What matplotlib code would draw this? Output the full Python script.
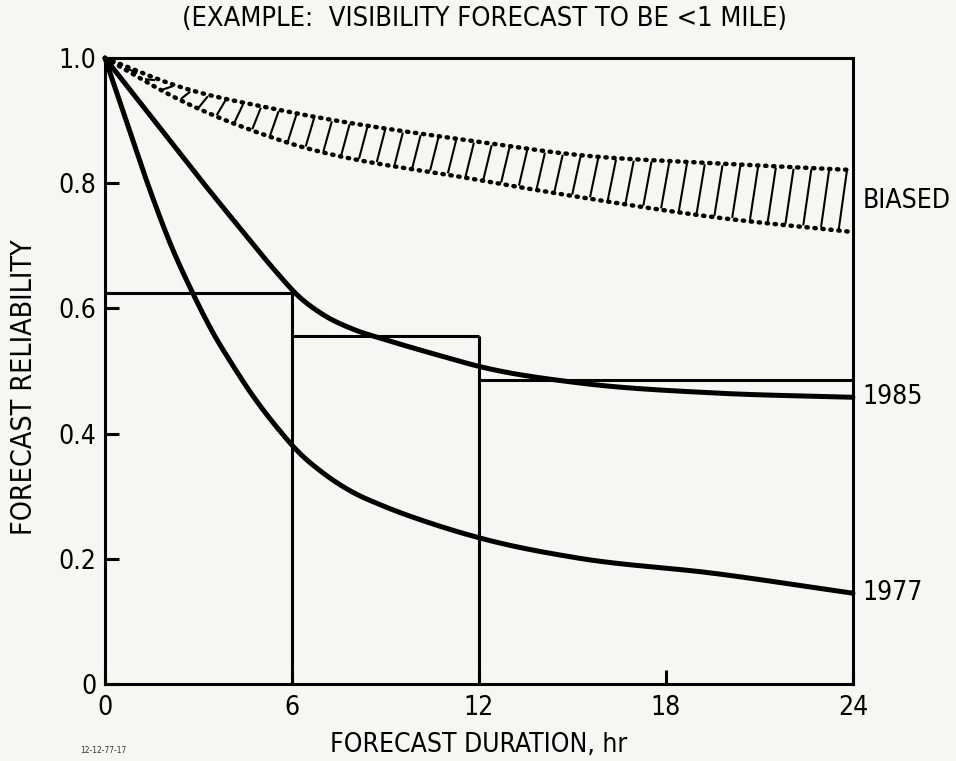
import matplotlib
matplotlib.use("Agg")
import matplotlib.pyplot as plt
import numpy as np

FONT = dict(family="DejaVu Sans", stretch="condensed")

# reliability curves, hours vs reliability
hrs_1985 = [0, 1.5, 3.0, 4.5, 5.5, 6.2, 7.0, 8.0, 9.0, 10.5, 12.2, 15.2, 19.5, 24]
rel_1985 = [1.0, 0.905, 0.81, 0.718, 0.658, 0.62, 0.59, 0.566, 0.55, 0.528, 0.505, 0.481, 0.465, 0.458]

hrs_1977 = [0, 0.7, 1.4, 2.1, 2.83, 3.5, 4.0, 4.75, 5.6, 6.2, 7.0, 8.0, 8.8, 10.5, 12.2, 15.2, 19.5, 24]
rel_1977 = [1.0, 0.897, 0.795, 0.703, 0.623, 0.558, 0.517, 0.46, 0.405, 0.371, 0.337, 0.305, 0.287,
            0.256, 0.231, 0.201, 0.177, 0.145]

# biased band (upper and lower limits)
hrs_bias = [0, 2.4, 5.6, 12.0, 15.2, 19.5, 24]
bias_hi = [1.0, 0.954, 0.917, 0.866, 0.845, 0.832, 0.821]
bias_lo = [1.0, 0.933, 0.869, 0.805, 0.778, 0.746, 0.722]

# 6-hourly block averages
step_edges = [0, 6, 12, 24]
step_vals = [0.625, 0.556, 0.486]

curve_labels = ["BIASED", "1985", "1977"]
xticks = [0, 6, 12, 18, 24]
yticks = [0, 0.2, 0.4, 0.6, 0.8, 1.0]
ytick_labels = ["0", "0.2", "0.4", "0.6", "0.8", "1.0"]


def smooth(x, y, n=25):
    # cubic hermite through the points, slopes from np.gradient
    x = np.asarray(x, float)
    y = np.asarray(y, float)
    m = np.gradient(y, x)
    ox, oy = [], []
    t = np.linspace(0, 1, n, endpoint=False)
    for i in range(len(x) - 1):
        h = x[i + 1] - x[i]
        h00 = 2 * t ** 3 - 3 * t ** 2 + 1
        h10 = t ** 3 - 2 * t ** 2 + t
        h01 = -2 * t ** 3 + 3 * t ** 2
        h11 = t ** 3 - t ** 2
        ox.extend(x[i] + t * h)
        oy.extend(h00 * y[i] + h10 * h * m[i] + h01 * y[i + 1] + h11 * h * m[i + 1])
    ox.append(x[-1])
    oy.append(y[-1])
    return np.array(ox), np.array(oy)


fig = plt.figure(figsize=(9.56, 7.61), dpi=100, facecolor="#f6f6f4")
ax = fig.add_axes([0.1098, 0.1012, 0.7824, 0.8226])
ax.set_facecolor("#f6f6f4")
ax.set_xlim(0, 24)
ax.set_ylim(0, 1.0)

for s in ax.spines.values():
    s.set_linewidth(2.2)
    s.set_color("black")

# step blocks
for i in range(len(step_vals)):
    x0, x1 = step_edges[i], step_edges[i + 1]
    ax.plot([x0, x1], [step_vals[i], step_vals[i]], color="black", lw=2.2, solid_capstyle="butt")
for i in range(1, len(step_vals)):
    top = max(step_vals[i - 1], step_vals[i])
    ax.plot([step_edges[i], step_edges[i]], [0, top], color="black", lw=2.2, solid_capstyle="butt")

# solid curves
for h, r in ((hrs_1985, rel_1985), (hrs_1977, rel_1977)):
    sx, sy = smooth(h, r)
    ax.plot(sx, sy, color="black", lw=3.6, solid_capstyle="round", solid_joinstyle="round",
            clip_on=False)

# biased band: dotted limits with slanted hatching
hx, hy = smooth(hrs_bias, bias_hi)
lx, ly = smooth(hrs_bias, bias_lo)
for bx, by in ((hx, hy), (lx, ly)):
    ax.plot(bx, by, color="black", lw=3.2, linestyle=(0, (0.3, 1.5)), dash_capstyle="round")

dx = 0.25
for x0 in np.arange(0.75, 23.8, 0.57):
    x1 = min(x0 + dx, 24)
    y0 = np.interp(x0, lx, ly)
    y1 = np.interp(x1, hx, hy)
    ax.plot([x0, x1], [y0 + 0.004, y1 - 0.004], color="black", lw=1.5)

ax.set_xticks(xticks)
ax.set_xticklabels([str(v) for v in xticks], fontsize=19, **FONT)
ax.set_yticks(yticks)
ax.set_yticklabels(ytick_labels, fontsize=19, **FONT)
ax.tick_params(axis="both", direction="in", length=10, width=2.2, colors="black")
ax.tick_params(axis="x", pad=8)
ax.tick_params(axis="y", pad=6)

ax.set_xlabel("FORECAST DURATION, hr", fontsize=19, labelpad=8, **FONT)
ax.set_ylabel("FORECAST RELIABILITY", fontsize=20.5, **FONT)
ax.yaxis.set_label_coords(-0.09, 0.474)
fig.text(0.507, 0.975, "(EXAMPLE:  VISIBILITY FORECAST TO BE <1 MILE)", ha="center", va="center",
         fontsize=19.5, **FONT)

# curve names at the right edge
label_y = [np.mean([bias_hi[-1], bias_lo[-1]]), rel_1985[-1], rel_1977[-1]]
for name, yv in zip(curve_labels, label_y):
    ax.text(24.3, yv, name, ha="left", va="center", fontsize=19, clip_on=False, **FONT)

fig.text(0.084, 0.011, "12-12-77-17", fontsize=6, color="#333333", **FONT)

fig.savefig("out.png", dpi=100, facecolor=fig.get_facecolor())
